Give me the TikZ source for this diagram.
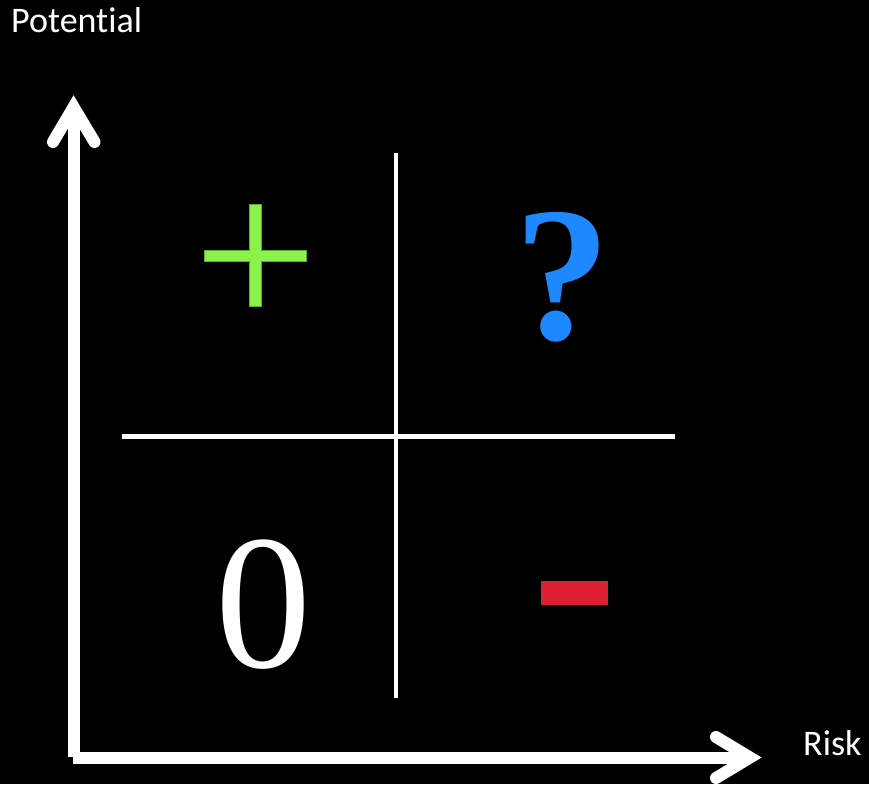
\documentclass[tikz,border=0pt]{standalone}
\usepackage{fontspec}
\newfontfamily\labelfont[Ligatures=NoCommon]{Carlito}
\newfontfamily\bigserif{Liberation Serif}
\definecolor{plusgreen}{RGB}{140,242,75}
\definecolor{plusedge}{RGB}{90,170,50}
\definecolor{qblue}{RGB}{30,136,255}
\definecolor{minusred}{RGB}{220,32,50}
\tikzset{
  axisline/.style={draw=white, line width=12pt},
  axishead/.style={draw=white, line width=12pt, line cap=round, line join=miter},
  divider/.style={draw=white, line width=4.5pt},
  axislabel/.style={text=white, inner sep=0pt, font=\labelfont\fontsize{36}{36}\selectfont},
  bigsym/.style={inner sep=0pt, font=\bigserif\fontsize{192}{192}\selectfont}
}
\begin{document}
\begin{tikzpicture}[x=1pt, y=-1pt]
  \fill[black] (0,0) rectangle (869,784);
  \useasboundingbox (0,0) rectangle (869,784);

  % axes
  \coordinate (origin) at (73.6,757.5);
  \coordinate (ytip) at (73.6,107);
  \coordinate (xtip) at (750,757.5);
  \coordinate (yarmL) at (53,142);
  \coordinate (yarmR) at (94.5,142);
  \coordinate (xarmU) at (716,737);
  \coordinate (xarmD) at (716,778);
  \draw[axisline] (73.6,757) -- (ytip);
  \draw[axisline] (73.3,757.5) -- (xtip);
  \draw[axishead] (yarmL) -- (ytip) -- (yarmR);
  \draw[axishead] (xarmU) -- (xtip) -- (xarmD);

  % dividers
  \coordinate (vtop) at (396,153.3);
  \coordinate (vbot) at (396,697.7);
  \coordinate (hleft) at (122,436.7);
  \coordinate (hright) at (674.7,436.7);
  \draw[divider] (vtop) -- (vbot);
  \draw[divider] (hleft) -- (hright);

  % labels
  \node[axislabel, anchor=base west] (potential) at (11,33) {Potential};
  \node[axislabel, anchor=base west] (risk) at (803,755) {Risk};

  % plus
  \filldraw[fill=plusgreen, draw=plusedge, line width=0.6pt]
    (249.3,204.7) -- (261.3,204.7) -- (261.3,250) -- (306.7,250) -- (306.7,261.7)
    -- (261.3,261.7) -- (261.3,306.7) -- (249.3,306.7) -- (249.3,261.7) -- (204,261.7)
    -- (204,250) -- (249.3,250) -- cycle;

  % question mark
  \node[bigsym, text=qblue, anchor=base, font=\bigserif\bfseries\fontsize{192}{192}\selectfont] (qmark) at (562.5,339) {?};

  % zero
  \node[bigsym, text=white, anchor=base] (zero) at (263.4,667) {0};

  % minus
  \fill[minusred] (541,581) rectangle (607.7,604.7);
\end{tikzpicture}
\end{document}
